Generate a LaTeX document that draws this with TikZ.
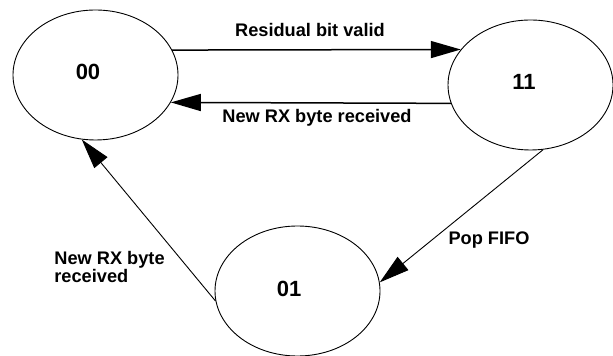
\documentclass[tikz,border=0pt]{standalone}
\usepackage{fontspec}
\setmainfont{Liberation Sans}
\usetikzlibrary{arrows.meta,shapes.geometric}
\begin{document}
\begin{tikzpicture}[x=0.5pt,y=-0.5pt,
  state/.style={draw,ellipse,line width=0.45pt,minimum width=82.5pt,minimum height=65pt,inner sep=0pt},
  lbl/.style={font=\fontsize{9.1pt}{9pt}\selectfont\bfseries,inner sep=0pt,anchor=base},
  statetext/.style={lbl,font=\fontsize{11pt}{12pt}\selectfont\bfseries},
  heavy/.style={-{Triangle[length=15pt,width=8.5pt]},line width=0.75pt},
  light/.style={-{Triangle[length=15pt,width=8.5pt]},line width=0.45pt}]
\useasboundingbox (0,0) rectangle (613,356);
% states
\node [state] (s00) at (95.5,75) {};
\node [state] (s11) at (530.5,85) {};
\node [state] (s01) at (297.5,291) {};

\node [statetext] (t00) at (88,80) {00};
\node [statetext] (t11) at (524,90) {11};
\node [statetext] (t01) at (289,297) {01};

% transitions
\draw [heavy] (s00.18.3) -- (s11.153.1);
\draw [heavy] (s11.-167.2) -- (s00.-20.7);
\draw [light] (s11.-79.5) -- (s01.6.2);
\draw [light] (s01.-173.6) -- (s00.-102.2);

\node [lbl] (l1) at (310,37) {Residual bit valid};
\node [lbl] (l2) at (317,123) {New RX byte received};
\node [lbl] (l3) at (489,245) {Pop FIFO};
\node [lbl,anchor=base west,align=left] (l4) at (54,283) {New\ RX\ byte\\received};

\end{tikzpicture}
\end{document}
